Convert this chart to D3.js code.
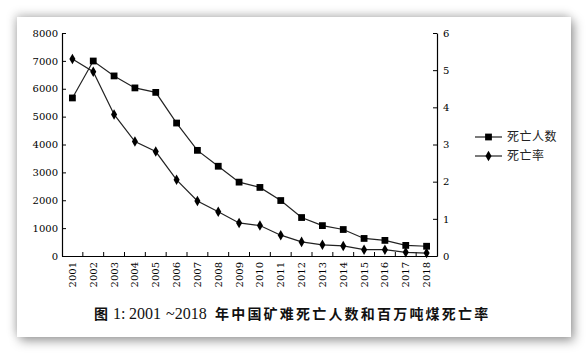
<!DOCTYPE html>
<html><head><meta charset="utf-8">
<script src="https://cdn.jsdelivr.net/npm/d3@7/dist/d3.min.js"></script>
<style>
html,body{margin:0;padding:0;background:#fff;}
#card{position:absolute;left:17px;top:17px;width:554px;height:320px;background:#fff;box-shadow:3px 4px 10px rgba(0,0,0,0.38), -2px -3px 9px rgba(0,0,0,0.18);}
svg{position:absolute;left:0;top:0;}
</style></head>
<body>
<div id="card"></div>
<svg id="chart" width="588" height="356"></svg>
<script>
const years = ["2001","2002","2003","2004","2005","2006","2007","2008","2009","2010","2011","2012","2013","2014","2015","2016","2017","2018"];
const deaths = [5670,6995,6460,6030,5870,4770,3790,3220,2650,2460,1990,1380,1090,950,630,560,380,350];
const rate = [5.30,4.96,3.81,3.08,2.81,2.05,1.48,1.19,0.89,0.82,0.56,0.38,0.30,0.27,0.17,0.17,0.10,0.08];
const leftTicks = [0,1000,2000,3000,4000,5000,6000,7000,8000];
const rightTicks = [0,1,2,3,4,5,6];
const legendLabels = ["死亡人数","死亡率"];
const captionParts = ["图","1:","2001","~2018","年中国矿难死亡人数和百万吨煤死亡率"];

const svg = d3.select("#chart");
const X0=62, X1=437, Y0=256, Y1=33;
const x = d3.scaleBand().domain(years).range([X0,X1]);
const yL = d3.scaleLinear().domain([0,8000]).range([Y0,Y1]);
const yR = d3.scaleLinear().domain([0,6]).range([Y0,Y1]);
const numFont = "'DejaVu Serif', serif";

const gL = svg.append("g").attr("transform",`translate(${X0},0)`)
  .call(d3.axisLeft(yL).tickValues(leftTicks).tickFormat(d3.format("d")).tickSizeInner(-4).tickSizeOuter(0).tickPadding(4));
const gR = svg.append("g").attr("transform",`translate(${X1},0)`)
  .call(d3.axisRight(yR).tickValues(rightTicks).tickFormat(d3.format("d")).tickSizeInner(-4).tickSizeOuter(0).tickPadding(6));
const gB = svg.append("g").attr("transform",`translate(0,${Y0})`)
  .call(d3.axisBottom(x).tickSize(0).tickPadding(6));
gB.selectAll(".tick text").attr("transform","rotate(-90)").attr("text-anchor","end")
  .attr("x",-6).attr("y",0).attr("dy","0.35em");
gB.selectAll(".bt").data(years.slice(1)).enter().append("line")
  .attr("x1",d=>x(d)).attr("x2",d=>x(d)).attr("y1",0).attr("y2",-4).attr("stroke","#000");

[gL,gR,gB].forEach(g=>{
  g.attr("font-family",null).attr("font-size",null);
  g.selectAll("path.domain").attr("stroke","#000").attr("stroke-width",1.2);
  g.selectAll("line").attr("stroke","#000").attr("stroke-width",1);
  g.selectAll("text").style("font-family",numFont).style("font-size","10px").attr("fill","#000");
});

const cx = d => x(d)+x.bandwidth()/2;
const lineD = d3.line().x((d,i)=>cx(years[i])).y(d=>yL(d));
const lineR = d3.line().x((d,i)=>cx(years[i])).y(d=>yR(d));
svg.append("path").attr("d",lineD(deaths)).attr("fill","none").attr("stroke","#222").attr("stroke-width",1.2);
svg.append("path").attr("d",lineR(rate)).attr("fill","none").attr("stroke","#222").attr("stroke-width",1.2);

const sq = d3.symbol().type(d3.symbolSquare).size(46);
const dm = d3.symbol().type(d3.symbolDiamond).size(32);
svg.selectAll(".sq").data(deaths).enter().append("path")
  .attr("d",sq).attr("fill","#000")
  .attr("transform",(d,i)=>`translate(${cx(years[i])},${yL(d)})`);
svg.selectAll(".dm").data(rate).enter().append("path")
  .attr("d",dm).attr("fill","#000")
  .attr("transform",(d,i)=>`translate(${cx(years[i])},${yR(d)})`);

const lg = svg.append("g");
[0,1].forEach(i=>{
  const ly = 137 + i*19;
  lg.append("line").attr("x1",475).attr("x2",502).attr("y1",ly).attr("y2",ly).attr("stroke","#222").attr("stroke-width",1.2);
  lg.append("path").attr("d", i===0?sq:dm).attr("fill","#000").attr("transform",`translate(488.5,${ly})`);
  lg.append("text").attr("x",507).attr("y",ly).attr("dy","0.36em")
    .style("font-family","'Noto Sans CJK SC'").style("font-size","12px").attr("letter-spacing",0.5)
    .attr("fill","#222").text(legendLabels[i]);
});

const cjk = "'Noto Sans CJK SC'", ser = "'Liberation Serif', serif";
const cap = svg.append("text").attr("y",319).attr("fill","#111");
cap.append("tspan").attr("x",94).style("font-family",cjk).style("font-weight","bold").style("font-size","14px").text(captionParts[0]);
cap.append("tspan").attr("x",113).style("font-family",ser).style("font-size","16px").text(captionParts[1]);
cap.append("tspan").attr("x",129).style("font-family",ser).style("font-size","16px").text(captionParts[2]);
cap.append("tspan").attr("x",166).style("font-family",ser).style("font-size","16px").text(captionParts[3]);
cap.append("tspan").attr("x",215).style("font-family",cjk).style("font-weight","bold").style("font-size","14px").attr("letter-spacing",2.2).text(captionParts[4]);
</script>
</body></html>
